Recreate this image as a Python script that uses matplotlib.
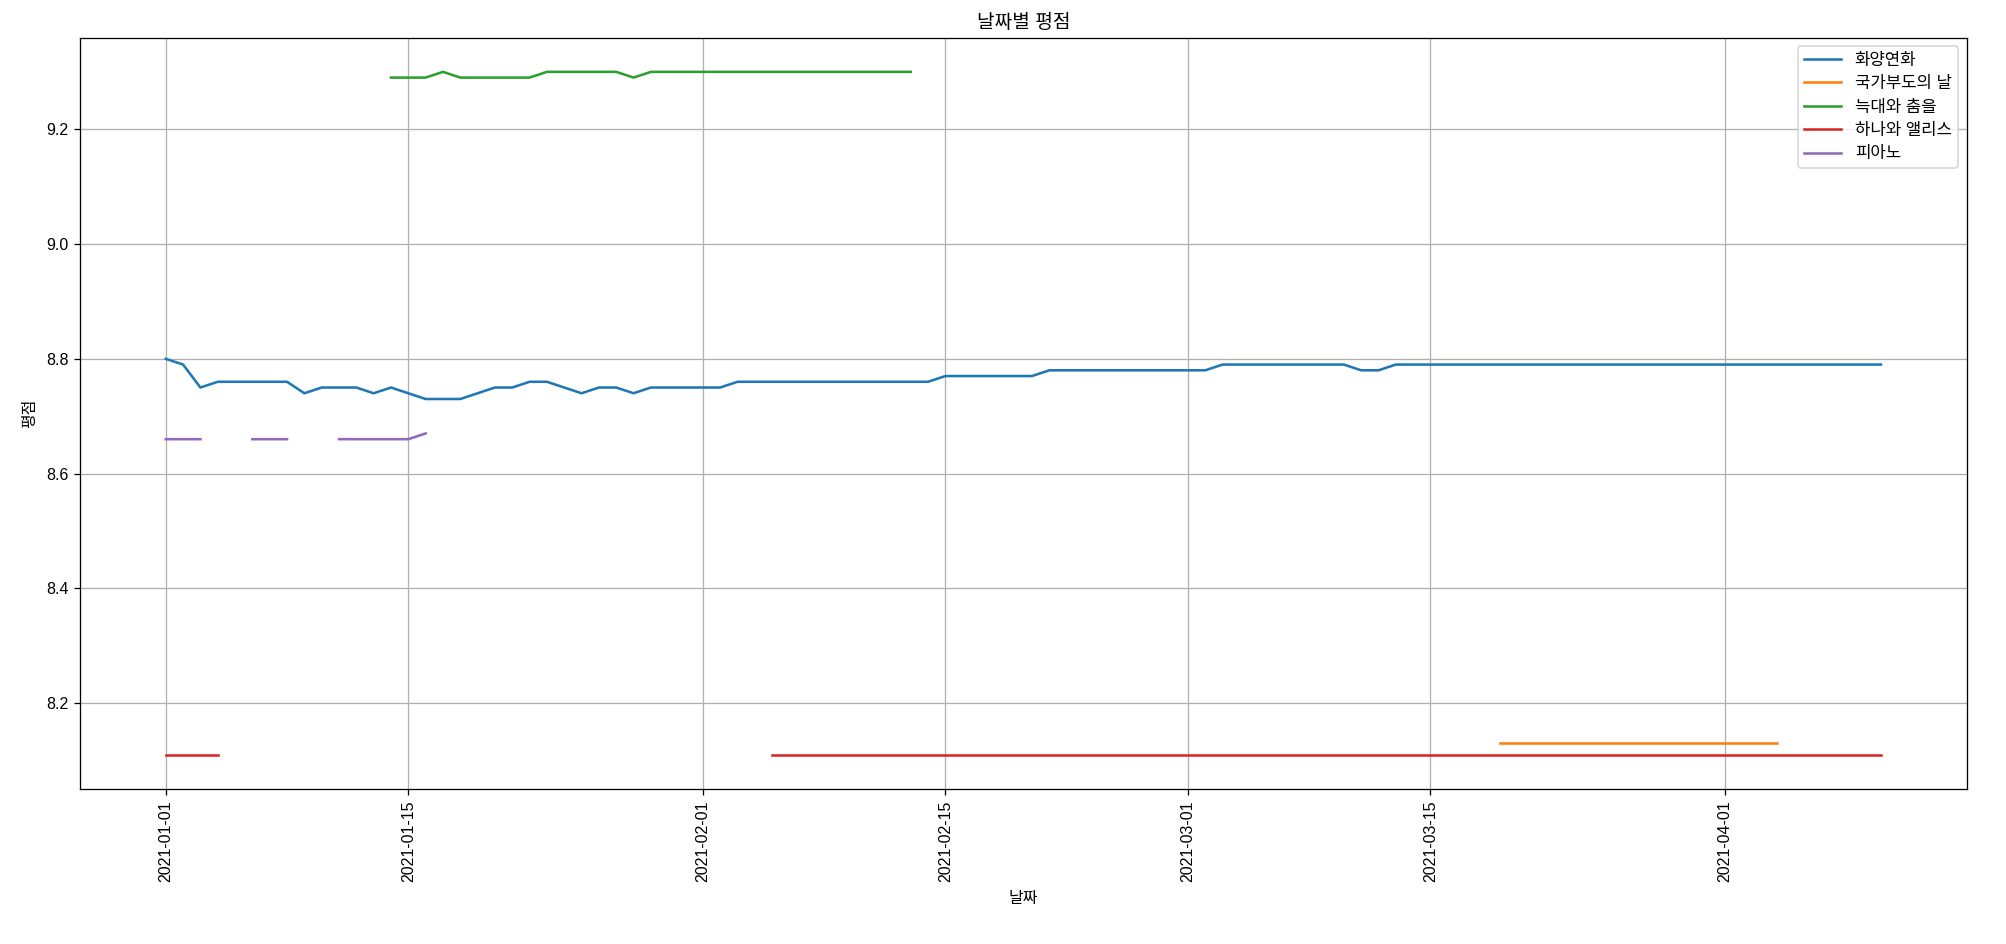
import numpy as np
import pandas as pd
import matplotlib
matplotlib.use("Agg")
import matplotlib.pyplot as plt
import matplotlib.dates as mdates

plt.rcParams['font.family'] = ['Liberation Sans', 'Noto Sans CJK KR', 'DejaVu Sans']
plt.rcParams['axes.unicode_minus'] = False

nan = np.nan

# Series: name, start date, daily values (NaN = missing)
titles = ["화양연화", "국가부도의 날", "늑대와 춤을", "하나와 앨리스", "피아노"]

hwayang_start = "2021-01-01"
hwayang = [8.80, 8.79, 8.75, 8.76, 8.76, 8.76, 8.76, 8.76, 8.74, 8.75,
           8.75, 8.75, 8.74, 8.75, 8.74, 8.73, 8.73, 8.73, 8.74, 8.75,
           8.75, 8.76, 8.76, 8.75, 8.74, 8.75, 8.75, 8.74, 8.75, 8.75,
           8.75, 8.75, 8.75, 8.76, 8.76, 8.76, 8.76, 8.76, 8.76, 8.76,
           8.76, 8.76, 8.76, 8.76, 8.76, 8.77, 8.77, 8.77, 8.77, 8.77,
           8.77, 8.78, 8.78, 8.78, 8.78, 8.78, 8.78, 8.78, 8.78, 8.78,
           8.78, 8.79, 8.79, 8.79, 8.79, 8.79, 8.79, 8.79, 8.79, 8.78,
           8.78, 8.79, 8.79, 8.79, 8.79, 8.79, 8.79, 8.79, 8.79, 8.79,
           8.79, 8.79, 8.79, 8.79, 8.79, 8.79, 8.79, 8.79, 8.79, 8.79,
           8.79, 8.79, 8.79, 8.79, 8.79, 8.79, 8.79, 8.79, 8.79, 8.79]

national_start = "2021-03-19"
national = [8.13] * 17

wolves_start = "2021-01-14"
wolves = [9.29, 9.29, 9.29, 9.30, 9.29, 9.29, 9.29, 9.29, 9.29, 9.30,
          9.30, 9.30, 9.30, 9.30, 9.29, 9.30, 9.30, 9.30, 9.30, 9.30,
          9.30, 9.30, 9.30, 9.30, 9.30, 9.30, 9.30, 9.30, 9.30, 9.30,
          9.30]

hana_start = "2021-01-01"
hana = ([8.11, 8.11, 8.11, 8.11] + [nan] * 31 + [8.11] * 65)

piano_start = "2021-01-01"
piano = [8.66, 8.66, 8.66, nan, nan, 8.66, 8.66, 8.66, nan, nan,
         8.66, 8.66, 8.66, 8.66, 8.66, 8.67]

series = [(hwayang_start, hwayang), (national_start, national),
          (wolves_start, wolves), (hana_start, hana), (piano_start, piano)]

DPI = 115
fig = plt.figure(figsize=(2006 / DPI, 944 / DPI), dpi=DPI)
ax = fig.add_axes([80 / 2006, 1 - 789 / 944, (1966.7 - 80) / 2006, (789 - 37.7) / 944])

for name, (start, vals) in zip(titles, series):
    dates = pd.date_range(start, periods=len(vals), freq="D")
    ax.plot(dates, vals, label=name, linewidth=1.6)

ax.set_title("날짜별 평점", fontsize=12)
ax.set_xlabel("날짜", fontsize=10, labelpad=6)
ax.set_ylabel("평점", fontsize=10, labelpad=6)
ax.xaxis.set_major_locator(mdates.DayLocator(bymonthday=[1, 15]))
ax.xaxis.set_major_formatter(mdates.DateFormatter("%Y-%m-%d"))
for lbl in ax.get_xticklabels():
    lbl.set_rotation(90)
ax.grid(True)
ax.legend(loc="upper right", fontsize=10.5, handlelength=2.2)

fig.savefig("out.png", dpi=DPI)
